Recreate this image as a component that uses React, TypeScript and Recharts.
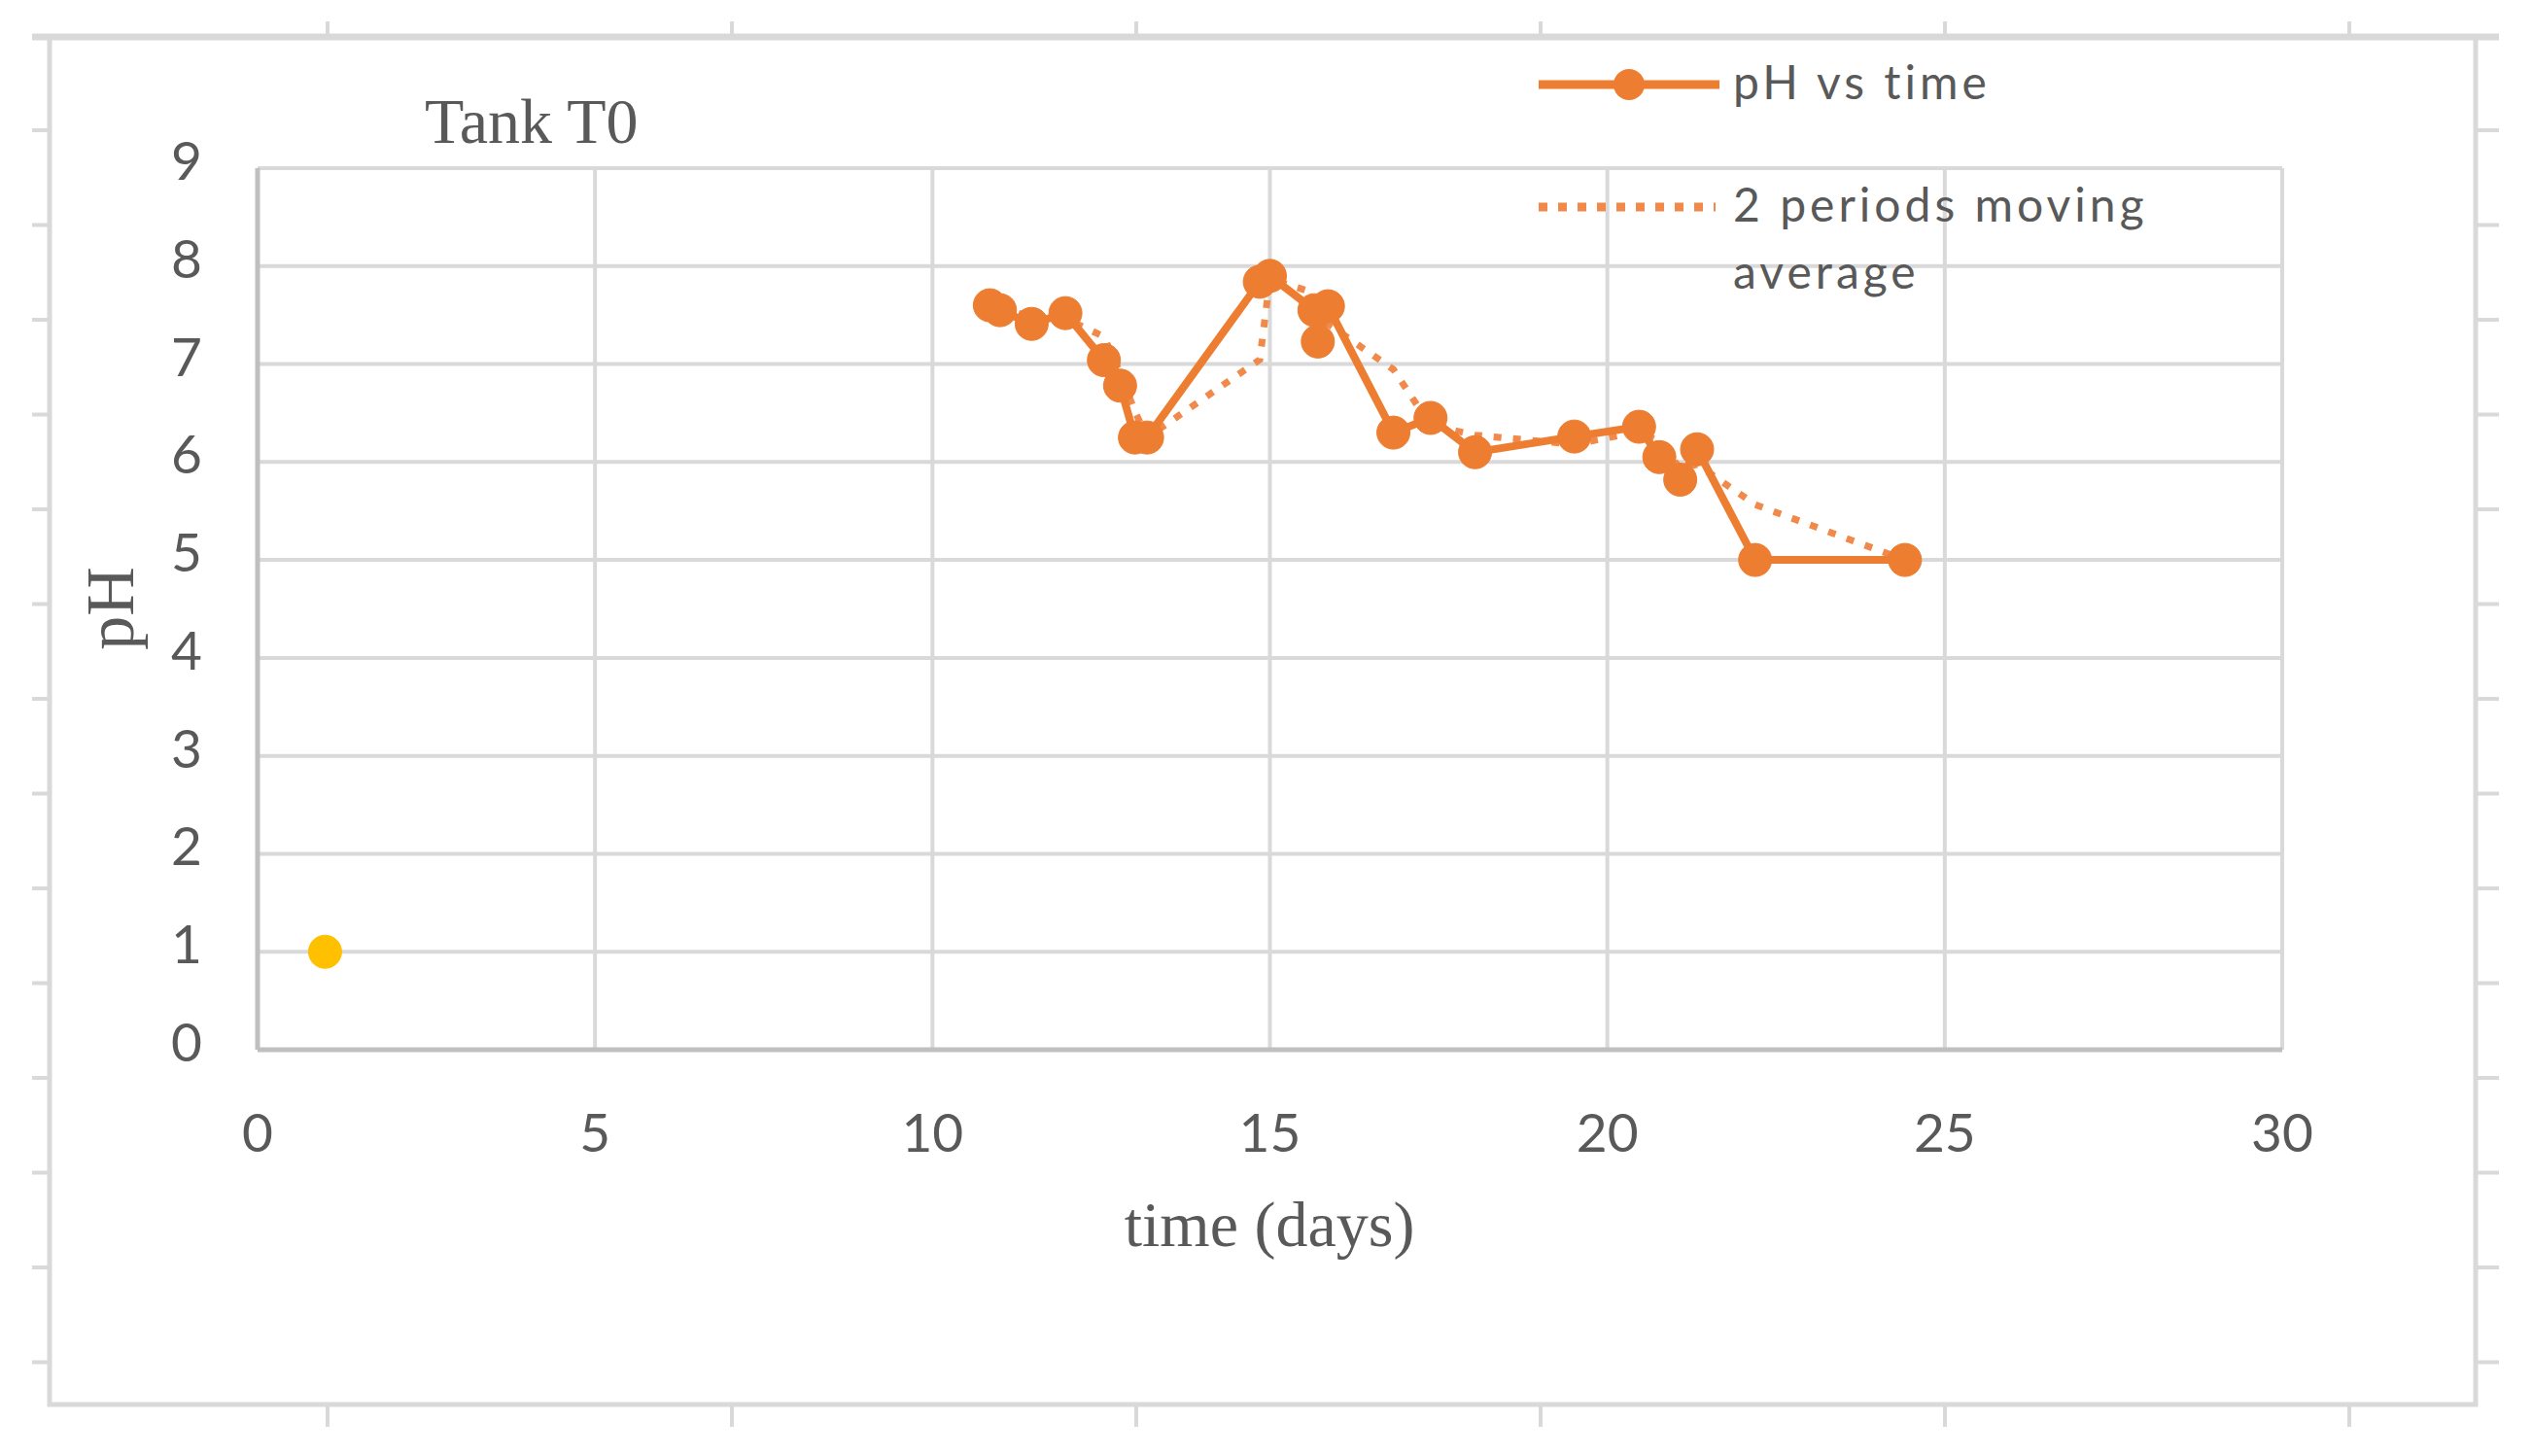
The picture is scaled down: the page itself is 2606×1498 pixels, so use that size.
import React from "react"
import { ComposedChart, Line, XAxis, YAxis, CartesianGrid, Legend } from "recharts"

// pH readings for tank T0
const days = [
  10.85, 11.0, 11.47, 11.97, 12.54, 12.78, 13.0, 13.18, 14.85, 15.0, 15.66, 15.71,
  15.86, 16.83, 17.38, 18.04, 19.51, 20.47, 20.77, 21.08, 21.33, 22.19, 24.41,
]
const phValues = [
  7.6, 7.55, 7.41, 7.52, 7.04, 6.78, 6.25, 6.25, 7.84, 7.9, 7.55, 7.23,
  7.59, 6.3, 6.45, 6.1, 6.26, 6.36, 6.05, 5.82, 6.13, 5.0, 5.0,
]
// stray single point (yellow)
const extraDays = [1]
const extraPh = [1]

const xTicks = [0, 5, 10, 15, 20, 25, 30]
const yTicks = [0, 1, 2, 3, 4, 5, 6, 7, 8, 9]

const ORANGE = "#ED7D31"
const DOTTED = "#F0894A"
const YELLOW = "#FFC000"
const TEXT = "#595959"
const GRID = "#D9D9D9"
const AXIS = "#BFBFBF"
const SANS = "Lato, 'Open Sans', sans-serif"
const SERIF = "'Liberation Serif', 'DejaVu Serif', serif"

const phData = days.map((x, i) => ({ x, y: phValues[i] }))
// Excel "2 per. Mov. Avg." trendline: mean of each point and the one before it
const maData = phData.slice(1).map((p, i) => ({ x: p.x, ma: (phData[i].y + p.y) / 2 }))
const extraData = extraDays.map((x, i) => ({ x, y: extraPh[i] }))

const XTick = ({ x, y, payload }: any) => (
  <text x={x} y={y + 105} textAnchor="middle" fill={TEXT} fontFamily={SANS} fontSize={55}>
    {payload.value}
  </text>
)

const YTick = ({ x, y, payload }: any) => (
  <text x={x - 57} y={y + 12} textAnchor="end" fill={TEXT} fontFamily={SANS} fontSize={55}>
    {payload.value}
  </text>
)

const XTitle = () => (
  <text x={1306} y={1282} textAnchor="middle" fill={TEXT} fontFamily={SERIF} fontSize={66}>
    time (days)
  </text>
)

const YTitle = () => (
  <text
    x={137}
    y={626}
    textAnchor="middle"
    fill={TEXT}
    fontFamily={SERIF}
    fontSize={70}
    transform="rotate(-90, 137, 626)"
  >
    pH
  </text>
)

const renderLegend = (props: any) => {
  const items = (props.payload || []).filter((p: any) => p.type !== "none")
  const main = items.find((p: any) => p.dataKey === "y")
  const avg = items.find((p: any) => p.dataKey === "ma")
  const txt = { fill: TEXT, fontFamily: SANS, fontSize: 48, letterSpacing: 4 }
  return (
    <svg width={900} height={300}>
      <line x1={13} x2={199} y1={47} y2={47} stroke={ORANGE} strokeWidth={9} />
      <circle cx={106} cy={47} r={16} fill={ORANGE} />
      <text x={213} y={62} {...txt}>{main ? main.value : ""}</text>
      <line x1={13} x2={195} y1={173} y2={173} stroke={DOTTED} strokeWidth={9} strokeDasharray="9 11" />
      <text x={213} y={188} {...txt}>2 periods moving</text>
      <text x={213} y={257} {...txt}>{avg ? avg.value.replace("2 periods moving ", "") : ""}</text>
    </svg>
  )
}

// spreadsheet cell-border remnants around the chart frame
const topTicks = [337, 753, 1169, 1585, 2001, 2417]
const sideTicks = Array.from({ length: 14 }, (_, k) => 134 + 97.5 * k)

export default function App() {
  return (
    <div style={{ position: "relative", width: 2606, height: 1498, background: "#fff" }}>
      <style>{"body{margin:0}"}</style>
      <svg width={2606} height={1498} style={{ position: "absolute", left: 0, top: 0 }}>
        <line x1={33} x2={2571} y1={38} y2={38} stroke={GRID} strokeWidth={7} />
        <rect x={51} y={38} width={2496} height={1407} fill="none" stroke={GRID} strokeWidth={5} />
        {topTicks.map((tx) => (
          <g key={tx}>
            <line x1={tx} x2={tx} y1={22} y2={38} stroke={GRID} strokeWidth={4} />
            <line x1={tx} x2={tx} y1={1445} y2={1468} stroke={GRID} strokeWidth={4} />
          </g>
        ))}
        {sideTicks.map((ty) => (
          <g key={ty}>
            <line x1={33} x2={51} y1={ty} y2={ty} stroke={GRID} strokeWidth={4} />
            <line x1={2547} x2={2571} y1={ty} y2={ty} stroke={GRID} strokeWidth={4} />
          </g>
        ))}
        <text x={437} y={147} fill={TEXT} fontFamily={SERIF} fontSize={66}>
          Tank T0
        </text>
      </svg>
      <div style={{ position: "absolute", left: 0, top: 0 }}>
        <ComposedChart width={2606} height={1498} margin={{ top: 173, right: 258, left: 0, bottom: 0 }}>
          <CartesianGrid stroke={GRID} strokeWidth={4} horizontalValues={yTicks} verticalValues={xTicks} />
          <XAxis
            dataKey="x"
            type="number"
            domain={[0, 30]}
            ticks={xTicks}
            height={418}
            tickLine={false}
            tickSize={0}
            tickMargin={0}
            axisLine={{ stroke: AXIS, strokeWidth: 5 }}
            tick={<XTick />}
            label={<XTitle />}
            allowDataOverflow
          />
          <YAxis
            type="number"
            domain={[0, 9]}
            ticks={yTicks}
            width={265}
            tickLine={false}
            tickSize={0}
            tickMargin={0}
            axisLine={{ stroke: AXIS, strokeWidth: 5 }}
            tick={<YTick />}
            label={<YTitle />}
            allowDataOverflow
          />
          <Legend
            layout="horizontal"
            verticalAlign="middle"
            align="center"
            content={renderLegend}
            wrapperStyle={{ top: 40, left: 1570, width: 900, height: 300 }}
          />
          <Line
            data={maData}
            dataKey="ma"
            name="2 periods moving average"
            type="linear"
            stroke={DOTTED}
            strokeWidth={7}
            strokeDasharray="8 12"
            dot={false}
            activeDot={false}
            isAnimationActive={false}
          />
          <Line
            data={phData}
            dataKey="y"
            name="pH vs time"
            type="linear"
            stroke={ORANGE}
            strokeWidth={8}
            dot={{ r: 17, fill: ORANGE, stroke: ORANGE, strokeWidth: 1 }}
            activeDot={false}
            isAnimationActive={false}
          />
          <Line
            data={extraData}
            dataKey="y"
            name="point"
            legendType="none"
            stroke="none"
            dot={{ r: 17, fill: YELLOW, stroke: YELLOW, strokeWidth: 1 }}
            activeDot={false}
            isAnimationActive={false}
          />
        </ComposedChart>
      </div>
    </div>
  )
}
